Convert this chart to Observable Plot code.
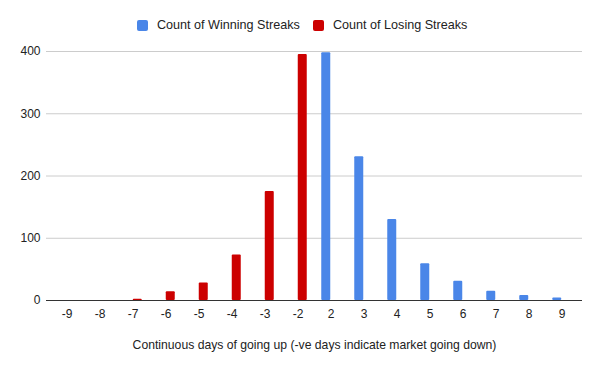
<!DOCTYPE html>
<html>
<head>
<meta charset="utf-8">
<script src="https://cdn.jsdelivr.net/npm/d3@7"></script>
<script src="https://cdn.jsdelivr.net/npm/@observablehq/plot@0.6"></script>
<style>
  html, body { margin: 0; padding: 0; background: #fff; }
  body { width: 600px; height: 371px; overflow: hidden; font-family: "Liberation Sans", Arial, sans-serif; }
  #legend { height: 40px; position: relative; font-size: 12.6px; color: #222; }
  .item { position: absolute; top: 18px; display: flex; align-items: center; }
  .sw { width: 11px; height: 11px; border-radius: 2px; margin-right: 9px; }
</style>
</head>
<body>
<div id="legend"></div>
<div id="chart"></div>
<script>
const categories = ["-9","-8","-7","-6","-5","-4","-3","-2","2","3","4","5","6","7","8","9"];
const winningCategories = ["2","3","4","5","6","7","8","9"];
const winningCounts = [398, 231, 130, 59, 31, 15, 8, 4];
const losingCategories = ["-9","-8","-7","-6","-5","-4","-3","-2"];
const losingCounts = [0, 0, 2, 14, 28, 73, 175, 395];
const yTicks = [0, 100, 200, 300, 400];
const seriesNames = ["Count of Winning Streaks", "Count of Losing Streaks"];
const seriesColors = ["#4a86e8", "#cc0000"];

const winRows = winningCategories.map((c, i) => ({cat: c, count: winningCounts[i]}));
const loseRows = losingCategories.map((c, i) => ({cat: c, count: losingCounts[i]}));

const legend = document.getElementById("legend");
const lefts = [137, 313];
seriesNames.forEach((n, i) => {
  const d = document.createElement("div");
  d.className = "item";
  d.style.left = lefts[i] + "px";
  d.innerHTML = `<span class="sw" style="background:${seriesColors[i]}"></span><span>${n}</span>`;
  legend.appendChild(d);
});

const chart = Plot.plot({
  width: 600,
  height: 331,
  marginTop: 11,
  marginBottom: 71,
  marginLeft: 46,
  marginRight: 18,
  style: {fontFamily: '"Liberation Sans", Arial, sans-serif', fontSize: "12px", color: "#222", background: "#fff"},
  x: {type: "band", domain: categories, padding: 0, label: null},
  y: {domain: [0, 400], label: null},
  marks: [
    Plot.gridY(yTicks, {stroke: "#cccccc", strokeOpacity: 1}),
    Plot.axisY(yTicks, {tickSize: 0, tickPadding: 6, label: null, fontSize: 12}),
    Plot.axisX(categories, {tickSize: 0, tickPadding: 9, fontSize: 12, label: null}),
    Plot.axisX({tickSize: 0, ticks: [], fontSize: 12.2,
      label: "Continuous days of going up (-ve days indicate market going down)",
      labelAnchor: "center", labelArrow: "none", labelOffset: 48}),
    Plot.barY(winRows, {x: "cat", y: "count", fill: seriesColors[0], insetLeft: 7.25, insetRight: 16.75, rx: 1}),
    Plot.barY(loseRows, {x: "cat", y: "count", fill: seriesColors[1], insetLeft: 16.75, insetRight: 7.25, rx: 1}),
    Plot.ruleY([0], {stroke: "#333", strokeWidth: 1})
  ]
});
document.getElementById("chart").appendChild(chart);
</script>
</body>
</html>
